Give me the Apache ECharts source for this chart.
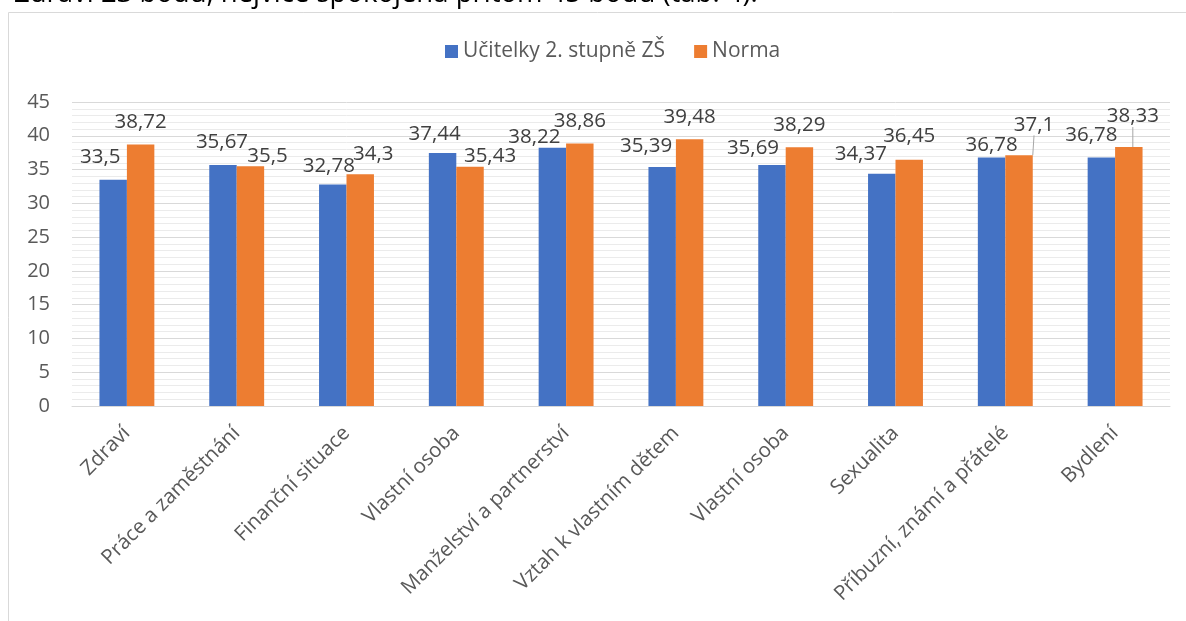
<!DOCTYPE html>
<html>
<head>
<meta charset="utf-8">
<script src="https://cdn.jsdelivr.net/npm/echarts@6/dist/echarts.min.js"></script>
<style>
html,body{margin:0;padding:0;background:#fff;}
#c{width:1186px;height:621px;}
</style>
</head>
<body>
<div id="c"></div>
<script>
const categories = ['Zdraví','Práce a zaměstnání','Finanční situace','Vlastní osoba','Manželství a partnerství','Vztah k vlastním dětem','Vlastní osoba','Sexualita','Příbuzní, známí a přátelé','Bydlení'];
const teachers = [33.5, 35.67, 32.78, 37.44, 38.22, 35.39, 35.69, 34.37, 36.78, 36.78];
const norm = [38.72, 35.5, 34.3, 35.43, 38.86, 39.48, 38.29, 36.45, 37.1, 38.33];
const seriesNames = ['Učitelky 2. stupně ZŠ', 'Norma'];
const yTicks = {min: 0, max: 45, interval: 5};

// label nudges (style only), [dx, dy] per data point
const teacherLabelShift = [[-13,0],[-1,0],[-4,4],[-8,4],[-18,12],[-16,2],[-19,6],[-21,3],[0,10],[-10,0]];
const normLabelShift = [[0,0],[17,12],[13,2],[20,12],[0,0],[0,0],[0,0],[0,-1],[15,-8],[4,-8]];
const leaderPoints = [8, 9];

const FONT = '"Open Sans", sans-serif';
const chart = echarts.init(document.getElementById('c'), null, {renderer: 'canvas'});

function fmt(v){ return String(v).replace('.', ','); }

function buildData(values, seriesIdx){
  return values.map((v, i) => {
    const item = {value: v};
    if (seriesIdx === 1 && leaderPoints.indexOf(i) >= 0) {
      item.labelLine = {show: true, lineStyle: {color: '#a6a6a6', width: 1}};
    }
    return item;
  });
}

const labelCommon = {
  show: true,
  position: 'top',
  distance: 12,
  color: '#404040',
  fontFamily: FONT,
  fontSize: 20.5,
  formatter: p => fmt(p.value)
};

chart.setOption({
  animation: false,
  textStyle: {fontFamily: FONT},
  graphic: [
    {type: 'rect', shape: {x: 8.5, y: 12.5, width: 1200, height: 700}, style: {fill: 'none', stroke: '#d9d9d9', lineWidth: 1}, silent: true},
    {type: 'text', silent: true, style: {x: 14, y: 8, verticalAlign: 'bottom', text: 'Zdraví 23 bodů, nejvíce spokojená přitom 45 bodů (tab. 4).', fill: '#000', font: '27.5px "Open Sans", sans-serif'}}
  ],
  legend: {
    top: 36,
    left: 440,
    icon: 'rect',
    itemWidth: 13,
    itemHeight: 13,
    itemGap: 29,
    textStyle: {color: '#595959', fontSize: 21, fontFamily: FONT, padding: [0,0,0,0]},
    data: seriesNames
  },
  grid: {left: 72, right: 16, top: 102, bottom: 215},
  xAxis: {
    type: 'category',
    data: categories,
    axisLine: {lineStyle: {color: '#d9d9d9', width: 1}},
    axisTick: {show: false},
    axisLabel: {rotate: 45, color: '#595959', fontSize: 20.5, fontFamily: FONT, margin: 24, interval: 0}
  },
  yAxis: {
    type: 'value',
    min: yTicks.min, max: yTicks.max, interval: yTicks.interval,
    axisLine: {show: false},
    axisTick: {show: false},
    axisLabel: {color: '#595959', fontSize: 20, fontFamily: FONT, margin: 22},
    splitLine: {lineStyle: {color: '#d9d9d9', width: 1}},
    minorTick: {show: false, splitNumber: 5},
    minorSplitLine: {show: true, lineStyle: {color: '#ebebeb', width: 1}}
  },
  labelLayout: function(p){
    const arr = p.seriesIndex === 0 ? teacherLabelShift : normLabelShift;
    const s = arr[p.dataIndex] || [0,0];
    return {dx: s[0], dy: s[1]};
  },
  series: [
    {
      name: seriesNames[0], type: 'bar', data: buildData(teachers, 0),
      itemStyle: {color: '#4472C4'}, barWidth: '25%', barGap: '0%',
      label: labelCommon
    },
    {
      name: seriesNames[1], type: 'bar', data: buildData(norm, 1),
      itemStyle: {color: '#ED7D31'}, barWidth: '25%', barGap: '0%',
      label: labelCommon,
      labelLine: {show: false}
    }
  ]
});
</script>
</body>
</html>
